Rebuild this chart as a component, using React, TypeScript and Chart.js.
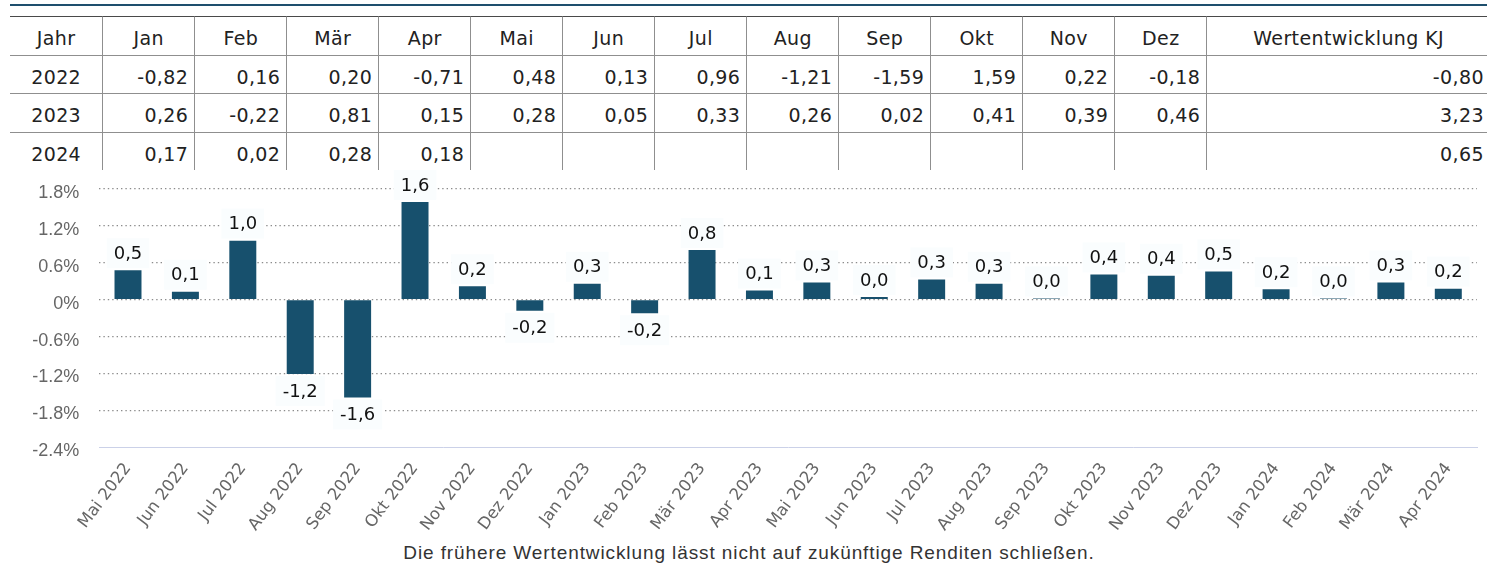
import React, { useEffect, useRef } from "react";
import { Chart, registerables } from "chart.js";

Chart.register(...registerables);

// ---------- DATA ----------
const tableHeader = ["Jahr", "Jan", "Feb", "Mär", "Apr", "Mai", "Jun", "Jul", "Aug", "Sep", "Okt", "Nov", "Dez", "Wertentwicklung KJ"];
const years = ["2022", "2023", "2024"];
const row2022 = [-0.82, 0.16, 0.2, -0.71, 0.48, 0.13, 0.96, -1.21, -1.59, 1.59, 0.22, -0.18];
const row2023 = [0.26, -0.22, 0.81, 0.15, 0.28, 0.05, 0.33, 0.26, 0.02, 0.41, 0.39, 0.46];
const row2024 = [0.17, 0.02, 0.28, 0.18];
const ytdValues = [-0.8, 3.23, 0.65];

const monthLabels = [
  "Mai 2022", "Jun 2022", "Jul 2022", "Aug 2022", "Sep 2022", "Okt 2022", "Nov 2022", "Dez 2022",
  "Jan 2023", "Feb 2023", "Mär 2023", "Apr 2023", "Mai 2023", "Jun 2023", "Jul 2023", "Aug 2023",
  "Sep 2023", "Okt 2023", "Nov 2023", "Dez 2023", "Jan 2024", "Feb 2024", "Mär 2024", "Apr 2024",
];
const monthlyReturns = [
  0.48, 0.13, 0.96, -1.21, -1.59, 1.59, 0.22, -0.18,
  0.26, -0.22, 0.81, 0.148, 0.28, 0.045, 0.33, 0.26,
  0.02, 0.41, 0.39, 0.46, 0.17, 0.02, 0.28, 0.18,
];
const yMin = -2.4;
const yMax = 1.8;
const yStep = 0.6;
const footnote = "Die frühere Wertentwicklung lässt nicht auf zukünftige Renditen schließen.";

// ---------- STYLE ----------
const BAR_COLOR = "#17506d";
const TABLE_FONT = '"DejaVu Sans", sans-serif';
const TICK_FONT = '"Liberation Sans", Arial, sans-serif';

const fmt2 = (v: number) => v.toFixed(2).replace(".", ",");
const fmt1 = (v: number) => v.toFixed(1).replace(".", ",");

const barLabelPlugin = {
  id: "barLabels",
  afterDatasetsDraw(chart: any) {
    const ctx = chart.ctx;
    const meta = chart.getDatasetMeta(0);
    const data = chart.data.datasets[0].data as number[];
    ctx.save();
    ctx.font = `18px ${TABLE_FONT}`;
    ctx.textAlign = "center";
    ctx.textBaseline = "middle";
    meta.data.forEach((bar: any, i: number) => {
      const v = data[i];
      const text = fmt1(v);
      const w = ctx.measureText(text).width;
      const boxW = w + 14;
      const boxH = 30;
      const cy = v >= 0 ? bar.y - 17 : bar.y + 17;
      ctx.fillStyle = "rgba(250,253,254,1)";
      ctx.fillRect(bar.x - boxW / 2, cy - boxH / 2, boxW, boxH);
      ctx.fillStyle = "#111";
      ctx.fillText(text, bar.x, cy + 1);
    });
    ctx.restore();
  },
};

function BarChart() {
  const ref = useRef<HTMLCanvasElement>(null);
  useEffect(() => {
    if (!ref.current) return;
    const chart = new Chart(ref.current, {
      type: "bar",
      data: {
        labels: monthLabels,
        datasets: [
          {
            data: monthlyReturns,
            backgroundColor: BAR_COLOR,
            barPercentage: 0.47,
            categoryPercentage: 1,
          },
        ],
      },
      options: {
        animation: false,
        responsive: false,
        devicePixelRatio: 1,
        layout: { padding: { top: 19, right: 10, left: 0, bottom: 0 } },
        plugins: { legend: { display: false }, tooltip: { enabled: false } },
        scales: {
          x: {
            grid: { display: false },
            border: { display: true, color: "#cbd1e8", width: 1 },
            ticks: {
              autoSkip: false,
              maxRotation: 53,
              minRotation: 53,
              color: "#666",
              font: { family: TABLE_FONT, size: 16.5 },
              padding: 4,
            },
            afterFit: (s: any) => {
              s.height = 92.7;
              s.paddingLeft = 0;
              s.paddingRight = 0;
            },
          },
          y: {
            min: yMin,
            max: yMax,
            border: { display: false, dash: [1.4, 3] },
            grid: {
              drawTicks: false,
              lineWidth: 1.3,
              color: (c: any) => (c.tick && Math.abs(c.tick.value - yMin) < 1e-6 ? "rgba(0,0,0,0)" : "#8c8c8c"),
            },
            ticks: {
              stepSize: yStep,
              color: "#666",
              font: { family: TICK_FONT, size: 18 },
              padding: 20,
              labelOffset: 4,
              callback: (v: any) => `${Math.round(Number(v) * 10) / 10}%`,
            },
            afterFit: (s: any) => {
              s.width = 99.3;
              s.paddingTop = 0;
              s.paddingBottom = 0;
            },
          },
        },
      },
      plugins: [barLabelPlugin],
    });
    return () => chart.destroy();
  }, []);
  return (
    <canvas
      ref={ref}
      width={1487}
      height={370}
      style={{ position: "absolute", left: 0, top: 170, width: 1487, height: 370 }}
    />
  );
}

function DataTable() {
  const colLefts: number[] = [10, 102.3];
  for (let i = 0; i < 12; i++) colLefts.push(102.3 + 92 * (i + 1));
  colLefts.push(1490);
  const rowTop = (r: number) => 16 + r * 38.5;
  const rowH = 38.5;
  const rows = [row2022, row2023, row2024];
  const cells: React.ReactNode[] = [];
  const baseStyle: React.CSSProperties = {
    position: "absolute",
    boxSizing: "border-box",
    height: rowH,
    fontFamily: TABLE_FONT,
    fontSize: 19,
    letterSpacing: "0.4px",
    color: "#222",
    paddingTop: 10,
    lineHeight: "22px",
    whiteSpace: "nowrap",
  };
  tableHeader.forEach((h, c) => {
    cells.push(
      <div
        key={`h${c}`}
        style={{
          ...baseStyle,
          left: colLefts[c],
          top: rowTop(0),
          width: colLefts[c + 1] - colLefts[c],
          textAlign: "center",
          borderTop: "1px solid #4a4a4a",
          borderLeft: c > 0 ? "1px solid #8f8f8f" : "none",
        }}
      >
        {h}
      </div>
    );
  });
  rows.forEach((vals, r) => {
    for (let c = 0; c < 14; c++) {
      let text = "";
      if (c === 0) text = years[r];
      else if (c === 13) text = fmt2(ytdValues[r]);
      else if (vals[c - 1] !== undefined) text = fmt2(vals[c - 1]);
      cells.push(
        <div
          key={`r${r}c${c}`}
          style={{
            ...baseStyle,
            left: colLefts[c],
            top: rowTop(r + 1),
            width: colLefts[c + 1] - colLefts[c],
            textAlign: c === 0 ? "center" : "right",
            paddingRight: c === 0 ? 0 : 6,
            borderTop: "1px solid #8f8f8f",
            borderLeft: c > 0 ? "1px solid #8f8f8f" : "none",
          }}
        >
          {text}
        </div>
      );
    }
  });
  return <>{cells}</>;
}

export default function App() {
  return (
    <div
      style={{
        position: "fixed",
        left: 0,
        top: 0,
        width: 1487,
        height: 563,
        overflow: "hidden",
        background: "#fff",
      }}
    >
      <div style={{ position: "absolute", left: 10, top: 4, width: 1477, height: 2, background: "#1e4f6d" }} />
      <DataTable />
      <BarChart />
      <div
        style={{
          position: "absolute",
          left: 0,
          top: 543,
          width: 1498,
          textAlign: "center",
          fontFamily: TICK_FONT,
          fontSize: 19,
          letterSpacing: "0.9px",
          lineHeight: "20px",
          color: "#333",
          whiteSpace: "nowrap",
        }}
      >
        {footnote}
      </div>
    </div>
  );
}
